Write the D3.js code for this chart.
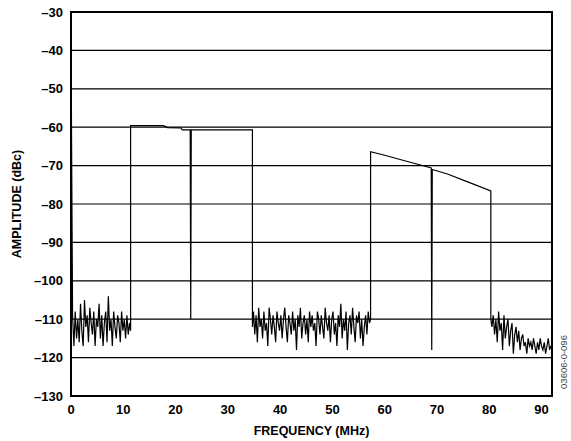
<!DOCTYPE html>
<html><head><meta charset="utf-8">
<script src="https://cdn.jsdelivr.net/npm/d3@7"></script>
<style>body{margin:0;background:#fff}svg{display:block}</style>
</head><body>
<script>
// ---- data ----
const yTicks = [-30,-40,-50,-60,-70,-80,-90,-100,-110,-120,-130];
const xTicks = [0,10,20,30,40,50,60,70,80,90];
// noise floor segments: [startMHz, endMHz] and values (dBc)
const noise1Range = [0.3, 11.2];
const noise1 = [-109,-117,-108,-115,-110,-116,-106,-113,-117,-105,-112,-109,-116,-107,-111,-114,-108,-117,-110,-112,-106,-115,-109,-117,-111,-108,-116,-104,-113,-110,-117,-108,-112,-115,-109,-111,-116,-108,-113,-110,-115,-109,-114,-111];
const noise2Range = [34.9, 57.1];
const noise2 = [-108,-114,-109,-116,-107,-112,-110,-115,-108,-113,-111,-117,-107,-110,-114,-109,-112,-116,-108,-111,-113,-109,-115,-110,-107,-112,-116,-109,-111,-114,-108,-113,-110,-118,-109,-112,-107,-115,-111,-109,-114,-110,-116,-108,-112,-109,-113,-111,-117,-108,-110,-114,-109,-112,-115,-107,-111,-113,-109,-116,-110,-108,-114,-111,-117,-109,-112,-106,-115,-110,-113,-108,-118,-111,-109,-114,-107,-112,-116,-109,-111,-108,-115,-110,-117,-112,-109,-114,-108,-111];
const noise3Range = [80.5, 91.8];
const noise3 = [-112,-109,-114,-110,-116,-108,-113,-111,-118,-109,-115,-112,-110,-117,-113,-111,-119,-114,-112,-116,-113,-118,-115,-114,-117,-116,-119,-115,-117,-116,-118,-115,-117,-119,-116,-118,-115,-117,-118,-116,-119,-117,-115,-118,-117];
// signal bands: [MHz, dBc]
const band1 = [[11.4,-59.6],[17.7,-59.6],[18.5,-60.1],[21.0,-60.2],[21.3,-60.7],[22.8,-60.7],[22.9,-110],[23.0,-60.7],[34.7,-60.7]];
const band2 = [[57.3,-66.4],[60,-67.3],[64,-68.8],[68.9,-70.6],[69.0,-118],[69.1,-71.0],[72,-72.2],[76,-74.3],[80.3,-76.6]];
const dcSpike = [0,-37];
const edgeSpike = [92,-85];

// ---- layout ----
const W=571,H=441, L=71,R=552,T=12,B=396;
const x=d3.scaleLinear().domain([0,92]).range([L,R]);
const y=d3.scaleLinear().domain([-130,-30]).range([B,T]);
const svg=d3.select("body").append("svg").attr("width",W).attr("height",H);

function seg(range, vals){
  const n=vals.length;
  return vals.map((v,i)=>[range[0]+(range[1]-range[0])*i/(n-1), v]);
}
const trace=[].concat(
  [dcSpike],
  seg(noise1Range,noise1),
  [[band1[0][0],-113]], band1, [[band1[band1.length-1][0],-112]],
  seg(noise2Range,noise2),
  [[band2[0][0],-110]], band2, [[band2[band2.length-1][0],-110]],
  seg(noise3Range,noise3),
  [[edgeSpike[0],-117]],[edgeSpike]
);

// grid
svg.append("g").selectAll("line").data(yTicks).join("line")
  .attr("x1",L).attr("x2",R).attr("y1",d=>y(d)).attr("y2",d=>y(d))
  .attr("stroke","#000").attr("stroke-width",1.2);

// trace
svg.append("path").datum(trace)
  .attr("d",d3.line().x(d=>x(d[0])).y(d=>y(d[1])))
  .attr("fill","none").attr("stroke","#000").attr("stroke-width",1.2).attr("stroke-linejoin","miter");

// frame
svg.append("rect").attr("x",L).attr("y",T).attr("width",R-L).attr("height",B-T)
  .attr("fill","none").attr("stroke","#000").attr("stroke-width",2);

const font="'Liberation Sans',Arial,Helvetica,sans-serif";
// y labels
svg.append("g").selectAll("text").data(yTicks).join("text")
  .attr("x",L-8).attr("y",d=>y(d)+4.5).attr("text-anchor","end")
  .attr("font-family",font).attr("font-weight","bold").attr("font-size",13)
  .text(d=>String(d).replace("-","\u2013"));
// x labels
svg.append("g").selectAll("text").data(xTicks).join("text")
  .attr("x",d=>x(d)).attr("y",414).attr("text-anchor","middle")
  .attr("font-family",font).attr("font-weight","bold").attr("font-size",13)
  .text(d=>d);
// titles
svg.append("text").attr("x",(L+R)/2).attr("y",435).attr("text-anchor","middle")
  .attr("font-family",font).attr("font-weight","bold").attr("font-size",12.5)
  .text("FREQUENCY (MHz)");
svg.append("text").attr("transform",`translate(21,${(T+B)/2}) rotate(-90)`).attr("text-anchor","middle")
  .attr("font-family",font).attr("font-weight","bold").attr("font-size",12.5)
  .text("AMPLITUDE (dBc)");
svg.append("text").attr("transform","translate(567,362) rotate(-90)").attr("text-anchor","middle")
  .attr("font-family",font).attr("font-size",9.5).attr("fill","#444")
  .text("03606-0-096");
</script>
</body></html>
